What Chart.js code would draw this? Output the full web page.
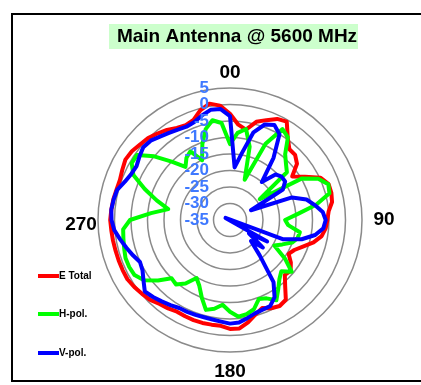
<!DOCTYPE html>
<html>
<head>
<meta charset="utf-8">
<script src="https://cdn.jsdelivr.net/npm/chart.js@4.4.1/dist/chart.umd.min.js"></script>
<style>
html,body{margin:0;padding:0;background:#fff;}
#wrap{width:421px;height:385px;position:relative;}
canvas{display:block;}
</style>
</head>
<body>
<div id="wrap"><canvas id="c" width="421" height="385"></canvas></div>
<script>
// ---- data (dB), one value every 5 degrees, clockwise from top ----
const angles = [0,5,10,15,20,25,30,35,40,45,50,55,60,65,70,75,80,85,90,95,100,105,110,115,
  120,125,130,135,140,145,150,155,160,165,170,175,180,185,190,195,200,205,210,215,220,225,230,235,
  240,245,250,255,260,265,270,275,280,285,290,295,300,305,310,315,320,325,330,335,340,345,350,355];

const eTotal = [-2.8,-6.0,-7.2,-4.2,-2.8,-1.2,-0.6,-4.5,-7.0,-7.1,-8.5,-12.0,-8.8,-4.7,-3.2,-3.2,-3.6,-5.0,
  -5.5,-5.9,-6.8,-8.8,-11.5,-13.5,-14.5,-12.5,-11.0,-11.5,-9.0,-5.5,-4.9,-5.5,-6.6,-5.3,-3.5,-2.0,
  -2.0,-2.8,-2.8,-2.7,-2.7,-2.8,-2.9,-2.3,-1.8,-0.8,-0.2,0.4,0.9,0.9,0.9,0.9,1.0,1.1,
  1.3,1.1,0.9,0.6,0.5,1.0,1.6,1.3,0.6,0.1,-0.8,-1.7,-2.8,-3.3,-2.7,-0.5,0.8,-0.2];

const hPol = [-12.0,-8.5,-7.0,-12.0,-22.0,-9.5,-3.2,-4.4,-9.0,-11.0,-12.5,-24.0,-9.8,-5.5,-3.3,-3.8,-8.5,-14.5,
  -18.3,-17.3,-13.5,-13.8,-15.0,-17.5,-19.5,-14.7,-10.6,-13.0,-11.7,-9.5,-6.9,-8.8,-9.5,-7.0,-6.0,-5.6,
  -7.2,-9.2,-7.7,-6.8,-10.0,-13.0,-14.7,-11.5,-9.5,-10.0,-6.5,-3.2,-1.6,-1.3,-1.3,-1.8,-2.2,-2.5,
  -4.7,-11.0,-16.0,-12.0,-7.5,-2.7,-0.6,-0.6,-5.0,-10.0,-14.0,-12.0,-11.0,-15.0,-10.5,-6.5,-4.3,-5.5];

const vPol = [-3.5,-19.0,-14.5,-7.5,-4.2,-3.2,-5.0,-12.0,-20.0,-15.5,-14.6,-14.6,-16.5,-28.0,-15.0,-11.0,-8.9,-6.8,
  -6.0,-6.6,-8.8,-12.5,-18.0,-36.5,-22.0,-28.0,-22.0,-26.0,-21.0,-12.0,-8.0,-6.2,-6.1,-5.7,-4.8,-3.8,
  -3.6,-4.1,-4.4,-4.5,-4.4,-4.3,-4.2,-3.5,-2.8,-2.0,-1.3,-3.0,-4.4,-4.9,-3.7,-2.5,-1.2,0.2,
  0.9,1.1,0.8,0.4,-1.1,-2.0,-2.3,-1.5,-0.7,-1.0,-2.0,-2.8,-3.4,-3.8,-3.4,-2.2,-1.1,-1.2];

const seriesNames = ['E Total', 'H-pol.', 'V-pol.'];
const seriesColors = ['#ff0000', '#00ff00', '#0000ff'];
const directionLabels = ['00', '90', '180', '270'];
const directionAngles = [0, 90, 180, 270];
const titleText = 'Main Antenna @ 5600 MHz';
const scaleMin = -35, scaleMax = 5, scaleStep = 5;

const FONT = '"Liberation Sans", Arial, Helvetica, sans-serif';

const decor = {
  id: 'decor',
  beforeDraw(chart) {
    const ctx = chart.ctx;
    ctx.save();
    ctx.fillStyle = '#ffffff';
    ctx.fillRect(0, 0, chart.width, chart.height);
    ctx.restore();
  },
  beforeDatasetsDraw(chart) {
    // white legend box that hides the grid behind the legend
    const ctx = chart.ctx;
    ctx.save();
    ctx.fillStyle = '#ffffff';
    ctx.fillRect(14, 257, 87, 118);
    ctx.restore();
  },
  afterDraw(chart) {
    const ctx = chart.ctx;
    const scale = chart.scales.r;
    ctx.save();

    // frame
    ctx.strokeStyle = '#000000';
    ctx.lineWidth = 2;
    ctx.strokeRect(12, 14, 430, 367);

    // title
    ctx.fillStyle = '#ccffcc';
    ctx.fillRect(109, 24, 249, 25);
    ctx.fillStyle = '#000000';
    ctx.font = 'bold 19px ' + FONT;
    ctx.textAlign = 'center';
    ctx.textBaseline = 'middle';
    ctx.fillText(titleText, 237, 37);

    // direction labels
    const dist = [147, 154, 152, 149];
    const dy = [0, 0, 0, 5];
    ctx.font = 'bold 19px ' + FONT;
    directionLabels.forEach((lab, i) => {
      const idx = angles.indexOf(directionAngles[i]);
      const p = scale.getPointPosition(idx, dist[i]);
      ctx.fillText(lab, p.x, p.y + dy[i]);
    });

    // radial tick labels
    ctx.font = 'bold 17px ' + FONT;
    ctx.fillStyle = '#3f79ff';
    ctx.textAlign = 'right';
    scale.ticks.forEach(t => {
      const d = scale.getDistanceFromCenterForValue(t.value);
      ctx.fillText(String(t.value), scale.xCenter - 21, scale.yCenter - d);
    });

    // legend
    const ly = [276, 314, 353];
    chart.data.datasets.forEach((ds, i) => {
      ctx.strokeStyle = ds.borderColor;
      ctx.lineWidth = 4;
      ctx.beginPath();
      ctx.moveTo(38, ly[i]);
      ctx.lineTo(59, ly[i]);
      ctx.stroke();
      ctx.fillStyle = '#000000';
      ctx.font = 'bold 10px ' + FONT;
      ctx.textAlign = 'left';
      ctx.fillText(ds.label, 59, ly[i] + 0.5);
    });
    ctx.restore();
  }
};

const seriesData = [eTotal, hPol, vPol];
const orders = [3, 2, 1];

new Chart(document.getElementById('c'), {
  type: 'radar',
  data: {
    labels: angles.map(String),
    datasets: seriesData.map((d, i) => ({
      label: seriesNames[i],
      data: d,
      borderColor: seriesColors[i],
      backgroundColor: 'rgba(0,0,0,0)',
      borderWidth: 4,
      pointRadius: 0,
      pointHoverRadius: 0,
      fill: false,
      tension: 0,
      order: orders[i]
    }))
  },
  options: {
    responsive: false,
    devicePixelRatio: 1,
    animation: false,
    layout: { padding: { left: 98, top: 88, right: 59, bottom: 33 } },
    plugins: { legend: { display: false }, title: { display: false }, tooltip: { enabled: false } },
    elements: { line: { borderJoinStyle: 'round', borderCapStyle: 'round' } },
    scales: {
      r: {
        min: scaleMin,
        max: scaleMax,
        beginAtZero: false,
        startAngle: 0,
        ticks: { stepSize: scaleStep, display: false },
        grid: { circular: true, color: '#8a8a8a', lineWidth: 1.5 },
        angleLines: { display: false },
        pointLabels: { display: false }
      }
    }
  },
  plugins: [decor]
});
</script>
</body>
</html>
